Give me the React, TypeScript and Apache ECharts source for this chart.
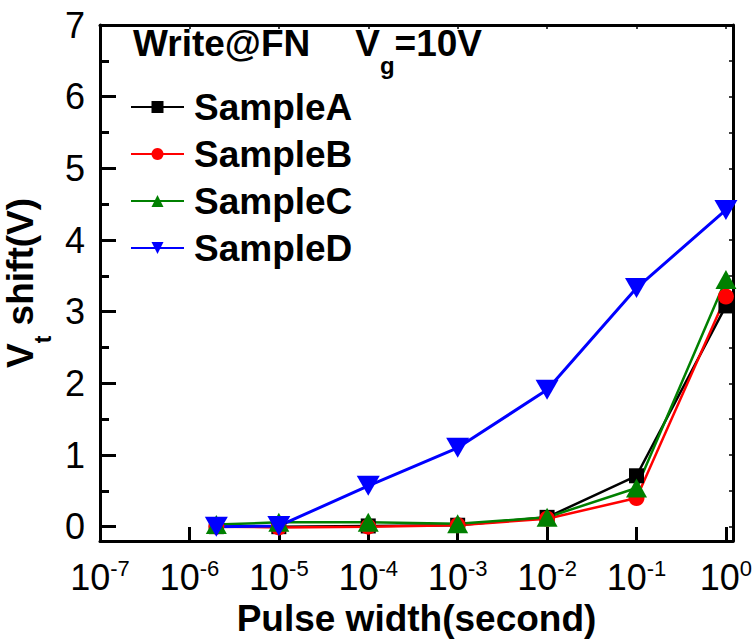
import React, { useEffect, useRef } from "react";
import * as echarts from "echarts";

const FONT = "'Liberation Sans', Arial, Helvetica, sans-serif";

const pulseWidths = [2e-6, 1e-5, 1e-4, 1e-3, 1e-2, 1e-1, 1];
const sampleA = [0, 0, 0.01, 0.02, 0.13, 0.71, 3.08];
const sampleB = [0, -0.01, 0, 0.02, 0.11, 0.4, 3.21];
const sampleC = [0.03, 0.06, 0.06, 0.04, 0.13, 0.54, 3.45];
const sampleD = [0, 0.01, 0.57, 1.1, 1.91, 3.33, 4.42];

const seriesNames = ["SampleA", "SampleB", "SampleC", "SampleD"];
const yMajorTicks = [0, 1, 2, 3, 4, 5, 6, 7];
const yMinorTicks = [0.5, 1.5, 2.5, 3.5, 4.5, 5.5, 6.5];
const yAllTicks = [0, 0.5, 1, 1.5, 2, 2.5, 3, 3.5, 4, 4.5, 5, 5.5, 6, 6.5, 7];

const pair = (ys: number[]) => pulseWidths.map((x, i) => [x, ys[i]]);

export default function App() {
  const ref = useRef<HTMLDivElement>(null);
  useEffect(() => {
    if (!ref.current) return;
    const chart = echarts.init(ref.current, undefined, { renderer: "svg" });
    const frameLine = { show: true, onZero: false, lineStyle: { color: "#000", width: 3 } };
    const option: any = {
      animation: false,
      backgroundColor: "#fff",
      grid: { left: 100, right: 23, top: 25, bottom: 98, containLabel: false, outerBoundsMode: "none" },
      title: {
        left: 133,
        top: 25,
        padding: 0,
        text: "{b|Write@FN}{gap|}{b|V}{s|g}{b|=10V}",
        textStyle: {
          rich: {
            b: { fontSize: 37, fontWeight: "bold", color: "#000", fontFamily: FONT, lineHeight: 40, verticalAlign: "top" },
            s: { fontSize: 24, fontWeight: "bold", color: "#000", fontFamily: FONT, lineHeight: 52, verticalAlign: "bottom" },
            gap: { width: 45 },
          },
        },
      },
      legend: {
        orient: "vertical",
        left: 130,
        top: 88,
        padding: 0,
        itemWidth: 53,
        itemHeight: 15,
        itemGap: 9,
        data: seriesNames,
        textStyle: {
          fontSize: 37,
          fontWeight: "bold",
          color: "#000",
          fontFamily: FONT,
          lineHeight: 38,
          padding: [0, 0, 0, 5],
        },
      },
      xAxis: [
        {
          type: "log",
          logBase: 10,
          min: 1e-7,
          max: 1.2,
          position: "bottom",
          axisLine: frameLine,
          axisTick: { show: true, inside: true, length: 14, lineStyle: { color: "#000", width: 3 } },
          splitLine: { show: false },
          minorTick: { show: false },
          axisLabel: {
            show: true,
            margin: 16,
            formatter: (v: number) => {
              const l = Math.log10(v);
              const e = Math.round(l);
              if (Math.abs(l - e) > 1e-6) return "";
              return `{b|10}{s|${e}}`;
            },
            rich: {
              b: { fontSize: 36, color: "#000", fontFamily: FONT, lineHeight: 38, verticalAlign: "bottom" },
              s: { fontSize: 22, color: "#000", fontFamily: FONT, lineHeight: 22, verticalAlign: "top" },
            },
          },
          name: "Pulse width(second)",
          nameLocation: "middle",
          nameGap: 57,
          nameTextStyle: { fontSize: 37, fontWeight: "bold", color: "#000", fontFamily: FONT },
        },
        {
          type: "log",
          logBase: 10,
          min: 1e-7,
          max: 1.2,
          position: "top",
          axisLine: frameLine,
          axisTick: { show: true, inside: true, length: 4, lineStyle: { color: "#000", width: 1.5 } },
          axisLabel: { show: false },
          splitLine: { show: false },
        },
      ],
      yAxis: [
        {
          type: "value",
          min: -0.2,
          max: 7,
          position: "left",
          axisLine: frameLine,
          axisTick: { show: true, inside: true, length: 16, customValues: yMajorTicks, lineStyle: { color: "#000", width: 3 } },
          splitLine: { show: false },
          axisLabel: {
            show: true,
            customValues: yMajorTicks,
            margin: 15,
            fontSize: 36,
            color: "#000",
            fontFamily: FONT,
          },
          name: "{b|V}{s|t}{b| shift(V)}",
          nameLocation: "middle",
          nameGap: 42,
          nameTextStyle: {
            rich: {
              b: { fontSize: 37, fontWeight: "bold", color: "#000", fontFamily: FONT, lineHeight: 40, verticalAlign: "top" },
              s: { fontSize: 23, fontWeight: "bold", color: "#000", fontFamily: FONT, lineHeight: 52, verticalAlign: "bottom" },
            },
          },
        },
        {
          type: "value",
          min: -0.2,
          max: 7,
          position: "left",
          axisLine: { show: false },
          axisTick: { show: true, inside: true, length: 9, customValues: yMinorTicks, lineStyle: { color: "#000", width: 3 } },
          axisLabel: { show: false },
          splitLine: { show: false },
        },
        {
          type: "value",
          min: -0.2,
          max: 7,
          position: "right",
          axisLine: frameLine,
          axisTick: { show: true, inside: true, length: 4, customValues: yAllTicks, lineStyle: { color: "#000", width: 1.5 } },
          axisLabel: { show: false },
          splitLine: { show: false },
        },
      ],
      series: [
        {
          name: "SampleA",
          type: "line",
          data: pair(sampleA),
          symbol: "rect",
          symbolSize: 15,
          itemStyle: { color: "#000000" },
          lineStyle: { color: "#000000", width: 2.5 },
        },
        {
          name: "SampleB",
          type: "line",
          data: pair(sampleB),
          symbol: "circle",
          symbolSize: 16,
          itemStyle: { color: "#ff0000" },
          lineStyle: { color: "#ff0000", width: 2.5 },
        },
        {
          name: "SampleC",
          type: "line",
          data: pair(sampleC),
          symbol: "triangle",
          symbolSize: [21, 19],
          itemStyle: { color: "#008000" },
          lineStyle: { color: "#008000", width: 2.5 },
        },
        {
          name: "SampleD",
          type: "line",
          data: pair(sampleD),
          symbol: "triangle",
          symbolRotate: 180,
          symbolSize: [23, 20],
          itemStyle: { color: "#0000ff" },
          lineStyle: { color: "#0000ff", width: 3 },
        },
      ],
    };
    chart.setOption(option);
    return () => chart.dispose();
  }, []);
  return <div ref={ref} style={{ position: "absolute", left: 0, top: 0, width: 756, height: 639 }} />;
}
